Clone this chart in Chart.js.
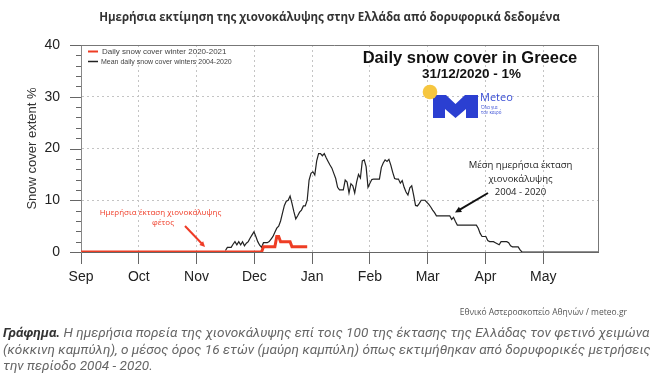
<!DOCTYPE html>
<html><head><meta charset="utf-8">
<script src="https://cdn.jsdelivr.net/npm/chart.js@4.4.1/dist/chart.umd.min.js"></script>
<style>
html,body{margin:0;padding:0;background:#fff;width:659px;height:381px;overflow:hidden;}
#wrap{position:relative;width:659px;height:381px;}
canvas{position:absolute;left:0;top:0;}
.t{position:absolute;white-space:nowrap;}
#title{left:0;width:659px;text-align:center;top:9px;font:bold 11.5px "Open Sans";color:#333;}
#src{right:32px;top:306px;font:8.5px "Open Sans";color:#555;}
#cap{left:3px;top:324px;font:italic 13.6px Roboto;color:#666;line-height:16.5px;}
#cap b{color:#333;}
</style></head>
<body><div id="wrap"><canvas id="c" width="659" height="381"></canvas>
<div class="t" id="title">Ημερήσια εκτίμηση της χιονοκάλυψης στην Ελλάδα από δορυφορικά δεδομένα</div>
<div class="t" id="src">Εθνικό Αστεροσκοπείο Αθηνών / meteo.gr</div>
<div class="t" id="cap"><b>Γράφημα.</b> Η ημερήσια πορεία της χιονοκάλυψης επί τοις 100 της έκτασης της Ελλάδας τον φετινό χειμώνα<br>(κόκκινη καμπύλη), ο μέσος όρος 16 ετών (μαύρη καμπύλη) όπως εκτιμήθηκαν από δορυφορικές μετρήσεις<br>την περίοδο 2004 - 2020.</div>
</div>
<script>
// ---- data ----
const monthLabels = ['Sep','Oct','Nov','Dec','Jan','Feb','Mar','Apr','May'];
const monthTickDays = [0, 30.4, 60.8, 91.2, 121.6, 152, 182.4, 212.8, 243.2];
const yTickValues = [0, 10, 20, 30, 40];

// red: daily snow cover winter 2020-2021, one value per day starting Sep 1 (day 0)
const redStartDay = 0;
const redValues = [
  0,0,0,0,0,0,0,0,0,0, 0,0,0,0,0,0,0,0,0,0, 0,0,0,0,0,0,0,0,0,0,
  0,0,0,0,0,0,0,0,0,0, 0,0,0,0,0,0,0,0,0,0, 0,0,0,0,0,0,0,0,0,0,
  0,0,0,0,0,0,0,0,0,0, 0,0,0,0,0,0,0,0,0,0, 0,0,0,0,0,0,0,0,0,0,
  0,0,0,0,0,0,
  1,1,1,1,1,1,1,
  3,3,
  2,2,2,2,2,2,
  1,1,1,1,1,1,1,1,1
];

// black: mean daily snow cover winters 2004-2020, starting day 76
const meanStartDay = 76;
const meanValues = [
  0.3, 0.9, 0.9, 0.9,
  1.5, 2, 1.4, 2, 1.4, 2, 1.2, 1.7, 2, 2.7,
  3.3, 3.9, 3, 2, 1.3, 0.9, 1.8, 1.8, 1.8, 2,
  2.5, 3, 3.8, 4.6, 5, 6, 7.5, 9, 9.8, 10,
  10.8, 9.4, 7.8, 6.4, 7, 7.7, 8.1, 8.9, 8.9, 10,
  13.9, 15.2, 15.5, 14.9, 17.6, 19, 19, 18.6, 19, 18.2,
  17.5, 16.8, 16.2, 15.2, 14.2, 12.5, 12, 12, 12, 13.9,
  13.5, 11.4, 13.2, 12.8, 11.4, 13.5, 15, 14.3, 17.6, 17.8,
  16.5, 12.5, 13.3, 14, 14.1, 14.1, 14.1, 14.1, 16.3, 17.2,
  17.8, 17.5, 17.9, 16.8, 15.4, 14.2, 14.1, 14.1, 13.3, 13.8,
  12.5, 11.6, 11, 12.4, 12.8, 11, 9, 8.9, 9.4, 10,
  10, 10, 9.6, 9.2, 8.7, 8.1, 7.6, 7, 7, 7,
  7, 7, 7, 7, 7, 6.3, 6.7, 5.9, 5.2, 5.2,
  5.2, 5.2, 5.2, 5.2, 5.2, 5.2, 5.2, 5.2, 5.2, 4.6,
  3.6, 3, 3, 3, 2.2, 2, 2, 2, 1.8, 1.6,
  1.4, 2, 2, 2, 2, 1.8, 1.2, 1, 1, 1,
  1, 0.4, 0, 0, 0, 0, 0, 0, 0, 0,
  0, 0, 0, 0, 0, 0, 0, 0, 0, 0,
  0, 0, 0, 0, 0, 0, 0, 0, 0, 0,
  0, 0, 0, 0, 0, 0, 0, 0, 0, 0,
  0, 0, 0
];

const redLabel = 'Daily snow cover winter 2020-2021';
const meanLabel = 'Mean daily snow cover winters 2004-2020';

// ---- drawing helpers ----
function arrow(ctx, x1, y1, x2, y2, color, w, head) {
  const a = Math.atan2(y2 - y1, x2 - x1);
  ctx.save();
  ctx.strokeStyle = color; ctx.fillStyle = color; ctx.lineWidth = w;
  ctx.beginPath(); ctx.moveTo(x1, y1);
  ctx.lineTo(x2 - Math.cos(a) * head * 0.8, y2 - Math.sin(a) * head * 0.8); ctx.stroke();
  ctx.beginPath(); ctx.moveTo(x2, y2);
  ctx.lineTo(x2 - head * Math.cos(a - 0.45), y2 - head * Math.sin(a - 0.45));
  ctx.lineTo(x2 - head * Math.cos(a + 0.45), y2 - head * Math.sin(a + 0.45));
  ctx.closePath(); ctx.fill();
  ctx.restore();
}

const decor = {
  id: 'decor',
  beforeDatasetsDraw(chart) {
    const {ctx, chartArea: a, scales: {y}} = chart;
    ctx.save();
    // frame top & right
    ctx.strokeStyle = '#777'; ctx.lineWidth = 1;
    ctx.beginPath();
    ctx.moveTo(a.left - 11, a.top + 0.5); ctx.lineTo(a.right + 0.5, a.top + 0.5);
    ctx.lineTo(a.right + 0.5, a.bottom);
    ctx.stroke();
    // y ticks major / minor
    ctx.strokeStyle = '#666';
    for (let v = 0; v <= 40; v += 2) {
      const py = Math.round(y.getPixelForValue(v)) + 0.5;
      const len = (v % 10 === 0) ? 11 : 5;
      ctx.beginPath(); ctx.moveTo(a.left - len, py); ctx.lineTo(a.left, py); ctx.stroke();
    }
    ctx.restore();
  },
  afterDatasetsDraw(chart) {
    const {ctx} = chart;
    const ds = chart.data.datasets;
    ctx.save();
    // legend
    ctx.textBaseline = 'middle'; ctx.textAlign = 'left';
    ctx.lineWidth = 2; ctx.strokeStyle = ds[0].borderColor;
    ctx.beginPath(); ctx.moveTo(88, 51.5); ctx.lineTo(98, 51.5); ctx.stroke();
    ctx.fillStyle = '#444'; ctx.font = '8px "Liberation Sans"';
    ctx.fillText(ds[0].label, 102, 52);
    ctx.lineWidth = 1.5; ctx.strokeStyle = ds[1].borderColor;
    ctx.beginPath(); ctx.moveTo(88, 61.5); ctx.lineTo(98, 61.5); ctx.stroke();
    ctx.font = '7px "Liberation Sans"';
    ctx.fillText(ds[1].label, 101, 62);

    // big heading
    ctx.textAlign = 'center'; ctx.fillStyle = '#111';
    ctx.font = 'bold 16.5px "Liberation Sans"';
    ctx.fillText('Daily snow cover in Greece', 470, 58);
    ctx.font = 'bold 13.5px "Liberation Sans"';
    ctx.fillText('31/12/2020 - 1%', 471.5, 74.5);

    // meteo logo (block M)
    ctx.fillStyle = '#2b3fd1';
    ctx.beginPath();
    ctx.moveTo(433, 118); ctx.lineTo(433, 95); ctx.lineTo(446, 95);
    ctx.lineTo(455.5, 104); ctx.lineTo(465, 95); ctx.lineTo(478, 95);
    ctx.lineTo(478, 118); ctx.lineTo(466, 118); ctx.lineTo(466, 109);
    ctx.lineTo(455.5, 118); ctx.lineTo(445, 109); ctx.lineTo(445, 118);
    ctx.closePath(); ctx.fill();
    ctx.fillStyle = '#f6c640';
    ctx.beginPath(); ctx.arc(430, 92, 7.3, 0, Math.PI * 2); ctx.fill();
    ctx.fillStyle = '#3a4fd6'; ctx.textAlign = 'left';
    ctx.font = '11px "Open Sans"';
    ctx.fillText('Meteo', 480, 97.5);
    ctx.font = '4.5px "Open Sans"';
    ctx.fillText('Όλα για', 481, 108);
    ctx.fillText('τον καιρό', 481, 113);

    // red annotation
    ctx.textAlign = 'center'; ctx.fillStyle = '#ef3b26';
    ctx.font = '8px "Open Sans"';
    ctx.fillText('Ημερήσια έκταση χιονοκάλυψης', 160.5, 212.5);
    ctx.fillText('φέτος', 163, 223);
    arrow(ctx, 185, 226, 205, 247, '#ef3b26', 2, 6);

    // black annotation
    ctx.fillStyle = '#222';
    ctx.font = '9.5px "Open Sans"';
    ctx.fillText('Μέση ημερήσια έκταση', 520.5, 165.5);
    ctx.fillText('χιονοκάλυψης', 520.5, 179);
    ctx.fillText('2004 - 2020', 520.5, 192);
    arrow(ctx, 488, 193, 455, 212.5, '#111', 2, 7);
    ctx.restore();
  }
};

new Chart(document.getElementById('c'), {
  type: 'line',
  data: {
    datasets: [
      {label: redLabel, data: redValues.map((v, i) => ({x: redStartDay + i, y: v})),
       borderColor: '#ee3d24', borderWidth: 3, pointRadius: 0, tension: 0, fill: false},
      {label: meanLabel, data: meanValues.map((v, i) => ({x: meanStartDay + i, y: v})),
       borderColor: '#222', borderWidth: 1.2, pointRadius: 0, tension: 0, fill: false}
    ]
  },
  options: {
    responsive: false, animation: false,
    layout: {padding: {left: 0, top: 45, right: 61, bottom: 89}},
    plugins: {legend: {display: false}, tooltip: {enabled: false}},
    scales: {
      x: {
        type: 'linear', min: 0, max: 272,
        afterBuildTicks: s => { s.ticks = monthTickDays.map(v => ({value: v})); },
        afterFit: s => { s.height = 40; },
        ticks: {autoSkip: false, maxRotation: 0, padding: 5, color: '#222',
                font: {family: 'Liberation Sans', size: 14},
                callback: (v, i) => monthLabels[i]},
        grid: {color: '#c4c4c4', lineWidth: 1, tickLength: 12, tickColor: '#666'},
        border: {display: true, color: '#666', width: 1, dash: [2, 3]}
      },
      y: {
        min: 0, max: 40,
        afterBuildTicks: s => { s.ticks = yTickValues.map(v => ({value: v})); },
        afterFit: s => { s.width = 81; },
        ticks: {padding: 21, color: '#222', font: {family: 'Liberation Sans', size: 14}},
        grid: {color: '#c4c4c4', lineWidth: 1, drawTicks: false},
        border: {display: true, color: '#888', width: 1, dash: [2, 3]},
        title: {display: true, text: 'Snow cover extent %', color: '#333',
                font: {family: 'Liberation Sans', size: 13}, padding: {top: 25, bottom: 0}}
      }
    }
  },
  plugins: [decor]
});
</script>
</body></html>
